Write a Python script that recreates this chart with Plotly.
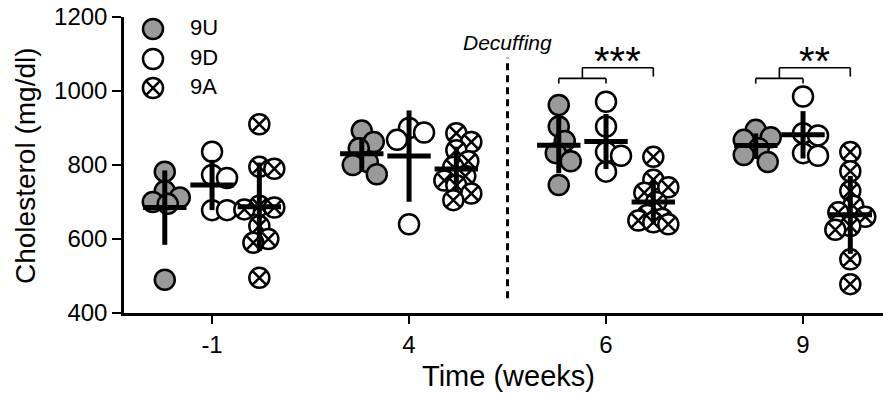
import numpy as np
import plotly.graph_objects as go

# ---------------- data ----------------
times = ["-1", "4", "6", "9"]
groups = ["9U", "9D", "9A"]

u_vals = [
    [782, 730, 712, 700, 695, 490],
    [893, 862, 845, 808, 800, 775],
    [962, 904, 865, 832, 810, 746],
    [895, 875, 868, 845, 827, 808],
]
d_vals = [
    [836, 773, 765, 678, 678],
    [900, 888, 868, 640],
    [971, 904, 835, 825, 782],
    [985, 886, 880, 832, 825],
]
a_vals = [
    [910, 795, 790, 690, 685, 680, 635, 600, 590, 495],
    [886, 862, 840, 810, 795, 770, 758, 745, 723, 705],
    [822, 760, 740, 725, 700, 665, 655, 650, 645, 640],
    [835, 783, 730, 690, 672, 660, 635, 625, 545, 478],
]
sig_labels = ["", "", "***", "**"]
event_label = "Decuffing"

# ---------------- layout geometry ----------------
W, H = 883, 394
ML, MR, MT, MB = 124, 0, 17, 81
XR = [-0.447, 3.406]
YR = [400, 1200]
pw, ph = W - ML - MR, H - MT - MB
ppx = pw / (XR[1] - XR[0])
ppy = ph / (YR[1] - YR[0])
offsets = [-0.24, 0.0, 0.24]

FONT = "Arial, Liberation Sans, sans-serif"
GRAY = "#9a9a9a"


def swarm(vals, center, min_d=15.0, step=3.0, max_off=15.0):
    """Deterministic beeswarm placement in pixel space."""
    cands = [0.0]
    k = 1
    while k * step <= max_off:
        cands += [k * step, -k * step]
        k += 1
    placed = []
    xs = [None] * len(vals)
    order = sorted(range(len(vals)), key=lambda i: -vals[i])
    for i in order:
        y = vals[i] * ppy
        best, bestd = 0.0, -1.0
        for c in cands:
            d = min([np.hypot(c - px, y - py) for px, py in placed], default=1e9)
            if d >= min_d:
                best = c
                break
            if d > bestd:
                bestd, best = d, c
        placed.append((best, y))
        xs[i] = center + best / ppx
    return xs


styles = {
    "9U": dict(symbol="circle", color=GRAY),
    "9D": dict(symbol="circle", color="white"),
    "9A": dict(symbol="circle-x", color="white"),
}
all_vals = {"9U": u_vals, "9D": d_vals, "9A": a_vals}

fig = go.Figure()

# points
for ti in range(len(times)):
    for gi, g in enumerate(groups):
        vals = all_vals[g][ti]
        xs = swarm(vals, ti + offsets[gi])
        fig.add_trace(go.Scatter(
            x=xs, y=vals, mode="markers", showlegend=False, hoverinfo="y",
            marker=dict(symbol=styles[g]["symbol"], size=20, color=styles[g]["color"],
                        line=dict(color="black", width=2.5)),
        ))

# mean +/- SD
for ti in range(len(times)):
    for gi, g in enumerate(groups):
        vals = np.array(all_vals[g][ti], dtype=float)
        fig.add_trace(go.Scatter(
            x=[ti + offsets[gi]], y=[vals.mean()], mode="markers", showlegend=False,
            marker=dict(symbol="line-ew", size=31, color="black",
                        line=dict(color="black", width=5)),
            error_y=dict(type="data", array=[vals.std(ddof=1)], thickness=5, width=0,
                         color="black"),
        ))

# legend on pixel-space overlay axes
leg_y = [29, 59, 88]
for g, yy in zip(groups, leg_y):
    fig.add_trace(go.Scatter(
        x=[153], y=[yy], xaxis="x2", yaxis="y2", mode="markers", showlegend=False,
        hoverinfo="skip",
        marker=dict(symbol=styles[g]["symbol"], size=20, color=styles[g]["color"],
                    line=dict(color="black", width=2.5)),
    ))
    fig.add_trace(go.Scatter(
        x=[190], y=[yy], xaxis="x2", yaxis="y2", mode="text", text=[g],
        textposition="middle right", showlegend=False, hoverinfo="skip",
        textfont=dict(family=FONT, size=22, color="black"),
    ))

shapes = []
# decuffing dashed line
shapes.append(dict(type="line", xref="x", yref="y", x0=1.5, x1=1.5, y0=440, y1=1090,
                   line=dict(color="black", width=3, dash="7px,5px")))

annotations = []
for ti, lab in enumerate(sig_labels):
    if not lab:
        continue
    xl, xm, xr = ti + offsets[0], ti + offsets[1], ti + offsets[2]
    xs_ = (xl + xm) / 2
    lw = dict(color="black", width=1.6)
    for (x0, y0, x1, y1) in [
        (xl, 1034, xm, 1034), (xl, 1034, xl, 1020), (xm, 1034, xm, 1020),
        (xs_, 1034, xs_, 1063), (xs_, 1063, xr, 1063), (xr, 1063, xr, 1039),
    ]:
        shapes.append(dict(type="line", xref="x", yref="y", x0=x0, y0=y0, x1=x1, y1=y1, line=lw))
    annotations.append(dict(x=(xs_ + xr) / 2, y=1082, xref="x", yref="y", text=lab,
                            showarrow=False, xanchor="center", yanchor="middle",
                            font=dict(family=FONT, size=40, color="black")))

annotations.append(dict(x=1.5, y=1132, xref="x", yref="y", text="<i>" + event_label + "</i>",
                        showarrow=False, xanchor="center", yanchor="middle",
                        font=dict(family=FONT, size=21, color="black")))
annotations.append(dict(x=(508 - ML) / pw, y=(MT + ph - 376) / ph, xref="paper", yref="paper",
                        text="Time (weeks)", showarrow=False, xanchor="center", yanchor="middle",
                        font=dict(family=FONT, size=29, color="black")))
annotations.append(dict(x=(25 - ML) / pw, y=(MT + ph - 166) / ph, xref="paper", yref="paper",
                        text="Cholesterol (mg/dl)", showarrow=False, textangle=-90,
                        xanchor="center", yanchor="middle",
                        font=dict(family=FONT, size=28, color="black")))

fig.update_layout(
    width=W, height=H,
    margin=dict(l=ML, r=MR, t=MT, b=MB),
    plot_bgcolor="white", paper_bgcolor="white",
    showlegend=False,
    xaxis=dict(range=XR, tickmode="array", tickvals=list(range(len(times))), ticktext=times,
               showgrid=False, zeroline=False, showline=True, linecolor="black", linewidth=2.5,
               ticks="outside", ticklen=8, tickwidth=2, tickcolor="black",
               tickfont=dict(family=FONT, size=24, color="black")),
    yaxis=dict(range=YR, tickvals=[400, 600, 800, 1000, 1200],
               showgrid=False, zeroline=False, showline=True, linecolor="black", linewidth=2.5,
               ticks="outside", ticklen=9, tickwidth=2, tickcolor="black",
               tickfont=dict(family=FONT, size=24, color="black")),
    xaxis2=dict(overlaying="x", range=[ML, W - MR], visible=False, fixedrange=True),
    yaxis2=dict(overlaying="y", range=[MT + ph, MT], visible=False, fixedrange=True),
    shapes=shapes,
    annotations=annotations,
)

fig.write_html("out.html",
               config={"displayModeBar": False},
               post_script="document.body.style.margin='0';document.body.style.overflow='hidden';")
